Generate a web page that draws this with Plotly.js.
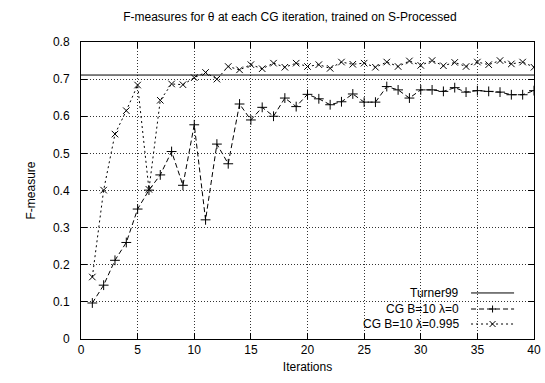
<!DOCTYPE html>
<html>
<head>
<meta charset="utf-8">
<script src="https://cdn.plot.ly/plotly-3.0.1.min.js"></script>
<style>html,body{margin:0;padding:0;background:#fff;}#chart{width:545px;height:383px;}</style>
</head>
<body>
<div id="chart"></div>
<script>
// ---- data ----
var iterations = [1,2,3,4,5,6,7,8,9,10,11,12,13,14,15,16,17,18,19,20,21,22,23,24,25,26,27,28,29,30,31,32,33,34,35,36,37,38,39,40];
var cgLambda0 = [0.097,0.145,0.212,0.260,0.350,0.401,0.442,0.505,0.414,0.577,0.321,0.525,0.472,0.633,0.590,0.624,0.600,0.649,0.626,0.659,0.647,0.631,0.639,0.660,0.638,0.638,0.680,0.671,0.649,0.671,0.671,0.667,0.677,0.665,0.669,0.667,0.665,0.658,0.658,0.669];
var cgLambda0995 = [0.167,0.401,0.552,0.615,0.684,0.403,0.643,0.687,0.685,0.704,0.718,0.700,0.734,0.725,0.739,0.728,0.743,0.732,0.743,0.734,0.739,0.729,0.746,0.740,0.743,0.732,0.746,0.734,0.749,0.737,0.750,0.736,0.745,0.734,0.746,0.739,0.750,0.741,0.746,0.732];
var turner99 = [0.711];
var seriesNames = ["Turner99", "CG B=10 \u03bb=0", "CG B=10 \u03bb=0.995"];
var xRange = [0, 40];
var yRange = [0, 0.8];

var FONT = "Liberation Sans, Arial, sans-serif";

var traces = [
  {x: xRange, y: [turner99[0], turner99[0]], mode: "lines", name: seriesNames[0],
   line: {color: "#000", width: 1}, showlegend: false, hoverinfo: "skip"},
  {x: iterations, y: cgLambda0, mode: "lines+markers", name: seriesNames[1],
   line: {color: "#000", width: 1, dash: "5px,3px"},
   marker: {symbol: "cross-thin-open", size: 7, color: "#000", line: {color: "#000", width: 1}},
   showlegend: false},
  {x: iterations, y: cgLambda0995, mode: "lines+markers", name: seriesNames[2],
   line: {color: "#000", width: 1, dash: "2px,3px"},
   marker: {symbol: "x-thin-open", size: 6.5, color: "#000", line: {color: "#000", width: 1}},
   showlegend: false}
];

// custom legend (text left, sample right, like gnuplot)
var legRows = [0.155, 0.101, 0.0505];
var txtX = 0.839, s0 = 0.861, s1 = 0.956, sc = (s0 + s1) / 2;
var annotations = [], shapes = [];
shapes.push({type: "rect", xref: "paper", yref: "paper", x0: 14.8 / 40, x1: 0.985, y0: 0.004, y1: 0.1825,
  fillcolor: "#fff", line: {width: 0}, layer: "between"});
var dashes = ["solid", "5px,3px", "2px,3px"];
seriesNames.forEach(function (n, i) {
  annotations.push({xref: "paper", yref: "paper", x: txtX, y: legRows[i], text: n, showarrow: false,
    xanchor: "right", yanchor: "middle", font: {family: FONT, size: 12, color: "#000"}});
  shapes.push({type: "line", xref: "paper", yref: "paper", x0: s0, x1: s1, y0: legRows[i], y1: legRows[i],
    line: {color: "#000", width: 1, dash: dashes[i]}});
});
// legend marker glyphs (pixel-sized via paper fractions)
var pw = 453, ph = 297;
var hx = 3.5 / pw, hy = 3.5 / ph;
shapes.push({type: "line", xref: "paper", yref: "paper", x0: sc - hx, x1: sc + hx, y0: legRows[1], y1: legRows[1], line: {color: "#000", width: 1}});
shapes.push({type: "line", xref: "paper", yref: "paper", x0: sc, x1: sc, y0: legRows[1] - hy, y1: legRows[1] + hy, line: {color: "#000", width: 1}});
var dx = 3 / pw, dy = 3 / ph;
shapes.push({type: "line", xref: "paper", yref: "paper", x0: sc - dx, x1: sc + dx, y0: legRows[2] - dy, y1: legRows[2] + dy, line: {color: "#000", width: 1}});
shapes.push({type: "line", xref: "paper", yref: "paper", x0: sc - dx, x1: sc + dx, y0: legRows[2] + dy, y1: legRows[2] - dy, line: {color: "#000", width: 1}});

var axisCommon = {
  showline: true, linecolor: "#000", linewidth: 1, mirror: "ticks",
  ticks: "inside", ticklen: 6, tickcolor: "#000", tickwidth: 1,
  showgrid: true, gridcolor: "#333", griddash: "1px,2px", gridwidth: 1,
  zeroline: false, tickfont: {family: FONT, size: 12, color: "#000"}
};

var layout = {
  width: 545, height: 383,
  margin: {l: 81, r: 11, t: 42, b: 44},
  paper_bgcolor: "#fff", plot_bgcolor: "#fff",
  font: {family: FONT, size: 12, color: "#000"},
  title: {text: "F-measures for \u03b8 at each CG iteration, trained on S-Processed",
    x: 0.532, xref: "container", xanchor: "center", y: 0.955, yref: "container", yanchor: "middle",
    font: {family: FONT, size: 12, color: "#000"}},
  xaxis: Object.assign({}, axisCommon, {range: xRange, dtick: 5, tick0: 0,
    title: {text: "Iterations", font: {family: FONT, size: 12, color: "#000"}, standoff: 6}}),
  yaxis: Object.assign({}, axisCommon, {range: yRange, dtick: 0.1, tick0: 0, ticklabelstandoff: 8,
    title: {text: "F-measure", font: {family: FONT, size: 12, color: "#000"}, standoff: 14}}),
  showlegend: false,
  annotations: annotations,
  shapes: shapes
};

Plotly.newPlot("chart", traces, layout, {displayModeBar: false, staticPlot: true});
</script>
</body>
</html>
